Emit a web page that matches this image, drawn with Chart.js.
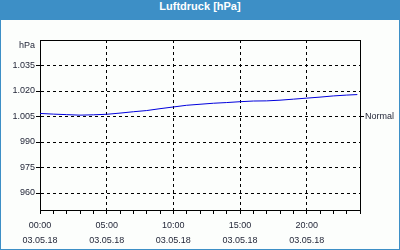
<!DOCTYPE html>
<html>
<head>
<meta charset="utf-8">
<script src="https://cdn.jsdelivr.net/npm/chart.js@4"></script>
<style>
    body { margin: 0; }
    #frame { width: 400px; height: 250px; background: #3d8fc6; position: relative; }
    #title { height: 20px; line-height: 19px; text-align: center; color: #fff;
             font: bold 11px "Liberation Sans", Arial, sans-serif; }
    #chart { position: absolute; left: 1px; top: 20px; background: #fcfefc; }
</style>
</head>
<body>
<div id="frame">
    <div id="title">Luftdruck [hPa]</div>
    <canvas id="chart" width="398" height="229"></canvas>
</div>
<script>
// hours of the day and pressure readings (hPa)
const hours = [0, 1, 2, 3, 4, 5, 6, 7, 8, 9, 10, 11, 12, 13, 14, 15, 16, 17, 18, 19, 20, 21, 22, 23, 23.8];
const pressure = [1006.8, 1006.4, 1006.1, 1005.8, 1006.0, 1006.3, 1007.0, 1007.8, 1008.5, 1009.6, 1010.6, 1011.6,
    1012.2, 1012.8, 1013.2, 1013.7, 1014.1, 1014.2, 1014.6, 1015.2, 1015.8, 1016.4, 1017.1, 1017.6, 1017.9];

const timeLabels = ['00:00', '05:00', '10:00', '15:00', '20:00'];
const dateLabel = '03.05.18';
const pressureTicks = [960, 975, 990, 1005, 1020, 1035];
const unitTick = 1047;      // where the "hPa" label sits
const normalTick = 1005;    // right side "Normal" mark

const fontSpec = { family: '"Liberation Sans", Arial, sans-serif', size: 9 };
const textColor = '#1e2234';

function formatHpa(v) {
    if (v === unitTick) return 'hPa';
    if (v >= 1000) return '1.' + String(v).slice(1);
    return String(v);
}

const ctx = document.getElementById('chart').getContext('2d');
const myChart = new Chart(ctx, {
    type: 'line',
    data: {
        datasets: [{
            data: hours.map((h, i) => ({ x: h, y: pressure[i] })),
            borderColor: '#0000dd',
            borderWidth: 1,
            pointRadius: 0,
            tension: 0
        }]
    },
    options: {
        responsive: false,
        animation: false,
        devicePixelRatio: 1,
        layout: { padding: 0 },
        plugins: { legend: { display: false }, tooltip: { enabled: false } },
        scales: {
            x: {
                type: 'linear',
                min: 0,
                max: 24,
                afterBuildTicks: scale => {
                    scale.ticks = [];
                    for (let h = 0; h <= 24; h++) scale.ticks.push({ value: h });
                },
                afterFit: scale => { scale.height = 39; },
                grid: {
                    color: c => (c.tick && c.tick.value % 5 === 0 && c.tick.value > 0 && c.tick.value < 24) ? '#000' : 'rgba(0,0,0,0)',
                    tickColor: '#000',
                    tickLength: 4,
                    lineWidth: 1
                },
                border: { display: true, color: '#000', width: 1, dash: [3, 3] },
                ticks: {
                    autoSkip: false,
                    maxRotation: 0,
                    padding: 4,
                    color: textColor,
                    font: { ...fontSpec, lineHeight: 15 / 9 },
                    callback: v => (v % 5 === 0 && v < 24) ? [timeLabels[v / 5], dateLabel] : ''
                }
            },
            x2: {
                type: 'linear',
                position: 'top',
                min: 0,
                max: 24,
                afterFit: scale => { scale.height = 20; },
                grid: { drawOnChartArea: false, drawTicks: false },
                border: { display: true, color: '#000', width: 1 },
                ticks: { display: false }
            },
            y: {
                min: 950,
                max: 1050,
                afterBuildTicks: scale => {
                    scale.ticks = pressureTicks.concat([unitTick]).map(v => ({ value: v }));
                },
                afterFit: scale => { scale.width = 39; },
                grid: {
                    color: c => (c.tick && c.tick.value === unitTick) ? 'rgba(0,0,0,0)' : '#000',
                    tickColor: c => (c.tick && c.tick.value === unitTick) ? 'rgba(0,0,0,0)' : '#000',
                    tickLength: 4,
                    lineWidth: 1
                },
                border: { display: true, color: '#000', width: 1, dash: [3, 3] },
                ticks: {
                    padding: 1,
                    color: textColor,
                    font: fontSpec,
                    callback: v => formatHpa(v)
                }
            },
            yR: {
                position: 'right',
                min: 950,
                max: 1050,
                afterBuildTicks: scale => { scale.ticks = [{ value: normalTick }]; },
                afterFit: scale => { scale.width = 39; },
                grid: { drawOnChartArea: false, tickColor: '#000', tickLength: 4 },
                border: { display: true, color: '#000', width: 1 },
                ticks: {
                    padding: 1,
                    color: textColor,
                    font: fontSpec,
                    callback: () => 'Normal'
                }
            }
        }
    }
});
</script>
</body>
</html>
